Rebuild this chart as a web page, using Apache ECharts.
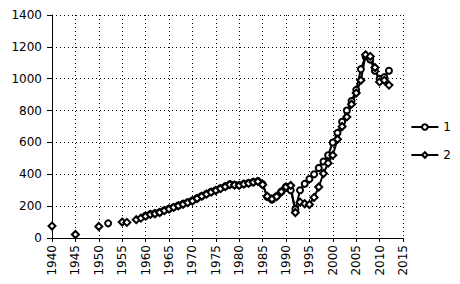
<!DOCTYPE html>
<html>
<head>
<meta charset="utf-8">
<script src="https://cdn.jsdelivr.net/npm/echarts@6/dist/echarts.min.js"></script>
<style>html,body{margin:0;padding:0;background:#fff}#c{width:460px;height:284px}</style>
</head>
<body>
<div id="c"></div>
<script>
var years = [];
for (var y = 1940; y <= 2012; y++) years.push(y);

var xTicks = [1940,1945,1950,1955,1960,1965,1970,1975,1980,1985,1990,1995,2000,2005,2010,2015];
var yTicks = [0,200,400,600,800,1000,1200,1400];

// values per year 1940..2012 (null = no data)
var series1 = [
 null,null,null,null,null, null,null,null,null,null, // 1940-49
 null,null,92,null,null, null,null,null,null,null,   // 1950-59
 140,150,155,162,174, 184,194,204,214,224,           // 1960-69
 236,250,264,277,290, 300,312,324,337,334,           // 1970-79
 332,340,345,352,357, 338,258,242,262,292,           // 1980-89
 322,300,180,300,340, 370,400,440,480,520,           // 1990-99
 600,660,730,800,860, 930,1060,1140,1120,1050,       // 2000-09
 1000,1010,1050                                      // 2010-12
];
var series2 = [
 75,null,null,null,null, 22,null,null,null,null,     // 1940-49
 72,null,null,null,null, 100,98,null,115,125,        // 1950-59
 137,148,152,160,172, 182,192,202,212,222,           // 1960-69
 232,248,262,275,288, 298,310,322,335,332,           // 1970-79
 330,338,343,350,355, 335,262,245,260,290,           // 1980-89
 320,330,160,225,215, 210,255,320,405,470,           // 1990-99
 520,620,700,760,840, 910,990,1150,1140,1070,        // 2000-09
 980,990,960                                         // 2010-12
];

function pairs(vals){ return years.map(function(y,i){ return [y, vals[i]]; }); }

var chart = echarts.init(document.getElementById('c'), null, {renderer:'svg'});
var font = 'DejaVu Sans';
chart.setOption({
  animation:false,
  backgroundColor:'#fff',
  grid:{left:52,right:57,top:15,bottom:46},
  legend:{
    orient:'vertical', right:4, top:116, itemGap:16, itemWidth:27, itemHeight:7,
    textStyle:{fontFamily:font,fontSize:12,color:'#000'},
    data:['1','2']
  },
  xAxis:{
    type:'value', min:xTicks[0], max:xTicks[xTicks.length-1], interval:5,
    axisLine:{lineStyle:{color:'#000',width:1}},
    axisTick:{show:true,length:4,lineStyle:{color:'#000'}},
    axisLabel:{rotate:90,color:'#000',fontFamily:font,fontSize:12,margin:7,
      formatter:function(v){return String(v);}},
    splitLine:{show:true,lineStyle:{color:'#000',type:[1,3],width:1}}
  },
  yAxis:{
    type:'value', min:yTicks[0], max:yTicks[yTicks.length-1], interval:200,
    axisLine:{show:true,lineStyle:{color:'#000',width:1}},
    axisTick:{show:true,length:5,lineStyle:{color:'#000'}},
    axisLabel:{color:'#000',fontFamily:font,fontSize:12,margin:10,formatter:function(v){return String(v);}},
    splitLine:{show:true,lineStyle:{color:'#000',type:[1,3],width:1}}
  },
  series:[
    {name:'1',type:'line',data:pairs(series1),symbol:'emptyCircle',symbolSize:6,
     connectNulls:false,lineStyle:{color:'#000',width:2},itemStyle:{color:'#000',borderWidth:1}},
    {name:'2',type:'line',data:pairs(series2),symbol:'emptyDiamond',symbolSize:7,
     connectNulls:false,lineStyle:{color:'#000',width:2},itemStyle:{color:'#000',borderWidth:1}}
  ]
});
</script>
</body>
</html>
